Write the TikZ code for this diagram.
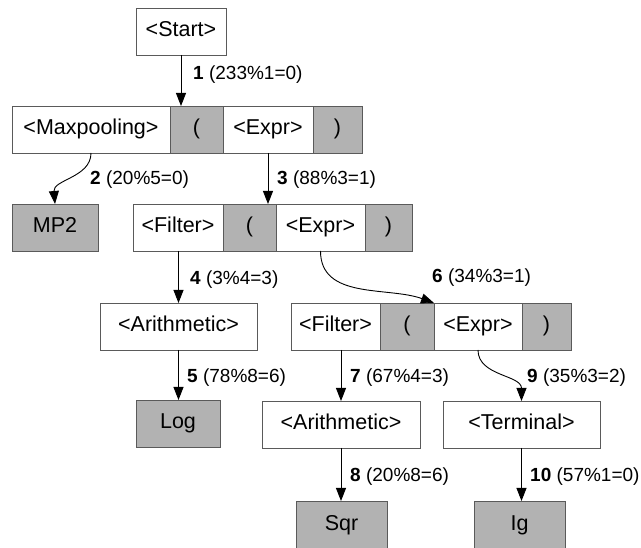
\documentclass[tikz,border=0pt]{standalone}
\usepackage{fontspec}
\setmainfont{Liberation Sans}
\usetikzlibrary{arrows.meta,positioning}
\definecolor{boxline}{RGB}{90,90,90}
\definecolor{termfill}{RGB}{178,178,178}

\begin{document}
\begin{tikzpicture}[x=1pt,y=-1pt,
        cell/.style={draw=boxline, line width=0.9pt, fill=white, anchor=north west,
            minimum height=47pt, inner xsep=3pt, outer sep=0pt,
            text height=15pt, text depth=4pt, font=\fontsize{21.5}{24}\selectfont},
        term/.style={fill=termfill},
        arr/.style={-{Triangle[width=10pt,length=13pt]}, line width=0.9pt},
        lbl/.style={anchor=west, inner sep=0pt, font=\fontsize{19}{22}\selectfont}]
        \useasboundingbox (0,0) rectangle (641,548);
        % start symbol
        \node[cell, minimum width=90pt] (start) at (136,8) {<Start>};
        % first rewrite
        \node[cell, minimum width=158pt] (mx1) at (12,106) {<Maxpooling>};
        \node[cell, term, minimum width=53pt, right=0pt of mx1] (lp1) {(};
        \node[cell, minimum width=90pt, right=0pt of lp1] (ex1) {<Expr>};
        \node[cell, term, minimum width=49pt, right=0pt of ex1] (rp1) {)};
        \node[cell, term, minimum width=86pt] (mp2) at (12,204) {MP2};
        % second rewrite
        \node[cell, minimum width=90pt] (fl2) at (133,204) {<Filter>};
        \node[cell, term, minimum width=53pt, right=0pt of fl2] (lp2) {(};
        \node[cell, minimum width=89pt, right=0pt of lp2] (ex2) {<Expr>};
        \node[cell, term, minimum width=47pt, right=0pt of ex2] (rp2) {)};
        \node[cell, minimum width=157pt] (ar1) at (100,303) {<Arithmetic>};
        \node[cell, term, minimum width=84pt] (log) at (136,400) {Log};
        % third rewrite
        \node[cell, minimum width=89pt] (fl3) at (291,303) {<Filter>};
        \node[cell, term, minimum width=54pt, right=0pt of fl3] (lp3) {(};
        \node[cell, minimum width=88pt, right=0pt of lp3] (ex3) {<Expr>};
        \node[cell, term, minimum width=49pt, right=0pt of ex3] (rp3) {)};
        \node[cell, minimum width=158pt] (ar2) at (262,401) {<Arithmetic>};
        \node[cell, minimum width=157pt] (te) at (443,401) {<Terminal>};
        \node[cell, term, minimum width=91pt] (sqr) at (296,501) {Sqr};
        \node[cell, term, minimum width=91pt] (ig) at (474,501) {Ig};
        % derivation steps
        \draw[arr] (start.south) -- (start.south |- lp1.north);
        \draw[arr] (mx1.south) to[out=-90,in=95] (mp2.north);
        \draw[arr] (ex1.south) -- (ex1.south |- fl2.north);
        \draw[arr] (ar1.north |- fl2.south) -- (ar1.north);
        \draw[arr] (ar1.south) -- (ar1.south |- log.north);
        \draw[arr] (ex2.south) to[out=-90,in=160] (lp3.north east);
        \draw[arr] (ar2.north |- fl3.south) -- (ar2.north);
        \draw[arr] (ex3.south) to[out=-90,in=90] (te.north);
        \draw[arr] (ar2.south) -- (ar2.south |- sqr.north);
        \draw[arr] (te.south) -- (te.south |- ig.north);
        % step labels
        \node[lbl] (l1) at (193,75) {\textbf{1} (233\%1=0)};
        \node[lbl] (l2) at (90,180) {\textbf{2} (20\%5=0)};
        \node[lbl] (l3) at (277,180) {\textbf{3} (88\%3=1)};
        \node[lbl] (l4) at (190,280) {\textbf{4} (3\%4=3)};
        \node[lbl] (l5) at (187,378) {\textbf{5} (78\%8=6)};
        \node[lbl] (l6) at (432,278) {\textbf{6} (34\%3=1)};
        \node[lbl] (l7) at (350,378) {\textbf{7} (67\%4=3)};
        \node[lbl] (l9) at (527,378) {\textbf{9} (35\%3=2)};
        \node[lbl] (l8) at (350,477) {\textbf{8} (20\%8=6)};
        \node[lbl] (l10) at (530,477) {\textbf{10} (57\%1=0)};
    \end{tikzpicture}
\end{document}
